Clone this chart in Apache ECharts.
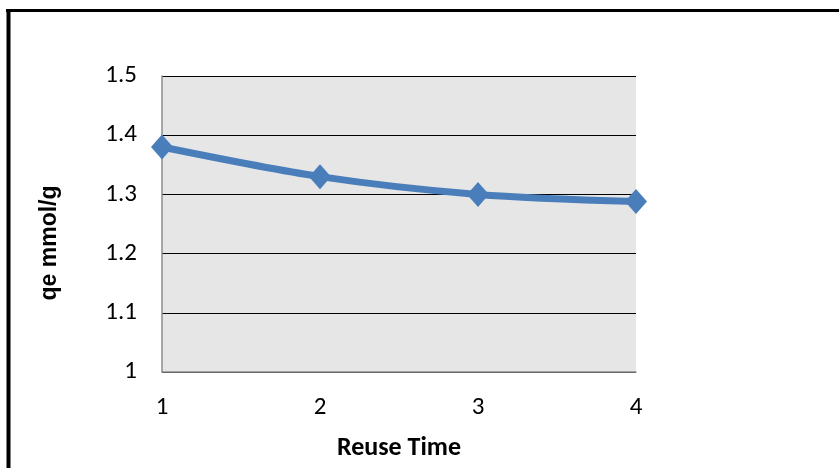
<!DOCTYPE html>
<html>
<head>
<meta charset="utf-8">
<script src="https://cdn.jsdelivr.net/npm/echarts@6/dist/echarts.min.js"></script>
<style>
  html, body { margin: 0; padding: 0; background: #fff; }
  #chart { width: 839px; height: 468px; }
</style>
</head>
<body>
<div id="chart"></div>
<script>
// Adsorption capacity over successive reuse cycles
const reuseTimes = [1, 2, 3, 4];
const qeValues = [1.38, 1.33, 1.30, 1.288];
const yTicks = { min: 1, max: 1.5, step: 0.1 };

const chart = echarts.init(document.getElementById('chart'));
const labelFont = 'Carlito, Calibri, Lato, "Open Sans", sans-serif';

chart.setOption({
  animation: false,
  backgroundColor: '#ffffff',
  graphic: [
    { type: 'line', shape: { x1: 8.5, y1: 9, x2: 8.5, y2: 468 }, style: { stroke: '#000', lineWidth: 4 } },
    { type: 'line', shape: { x1: 6, y1: 10.5, x2: 839, y2: 10.5 }, style: { stroke: '#000', lineWidth: 3 } }
  ],
  grid: {
    left: 162, top: 76, right: 203, bottom: 96,
    show: true, backgroundColor: '#e6e6e6', borderWidth: 0
  },
  xAxis: {
    type: 'value',
    min: 1, max: 4, interval: 1,
    name: 'Reuse Time',
    nameLocation: 'middle',
    nameGap: 63,
    nameTextStyle: { fontFamily: labelFont, fontWeight: 'bold', fontSize: 26, color: '#000' },
    axisLine: { show: true, lineStyle: { color: '#8c8c8c', width: 1.5 } },
    axisTick: { show: false },
    splitLine: { show: false },
    axisLabel: { margin: 23, fontFamily: labelFont, fontSize: 25, color: '#000' }
  },
  yAxis: {
    type: 'value',
    min: yTicks.min, max: yTicks.max, interval: yTicks.step,
    name: 'qe mmol/g',
    nameLocation: 'middle',
    nameRotate: 90,
    nameGap: 101,
    nameTextStyle: {
      fontFamily: '"Liberation Sans", Arial, sans-serif', fontWeight: 'bold', fontSize: 23, color: '#000',
      padding: [0, 38, 0, 0]
    },
    axisLine: { show: true, lineStyle: { color: '#8c8c8c', width: 1.5 } },
    axisTick: { show: false },
    splitLine: { show: true, lineStyle: { color: '#000', width: 1.2 } },
    axisLabel: {
      margin: 25, fontFamily: labelFont, fontSize: 25, color: '#000',
      formatter: v => String(Math.round(v * 10) / 10)
    }
  },
  series: [{
    type: 'line',
    data: reuseTimes.map((x, i) => [x, qeValues[i]]),
    smooth: 0.3,
    symbol: 'diamond',
    symbolSize: [22, 25],
    lineStyle: { color: '#4a7ebb', width: 7 },
    itemStyle: { color: '#4a7ebb' }
  }]
});
</script>
</body>
</html>
